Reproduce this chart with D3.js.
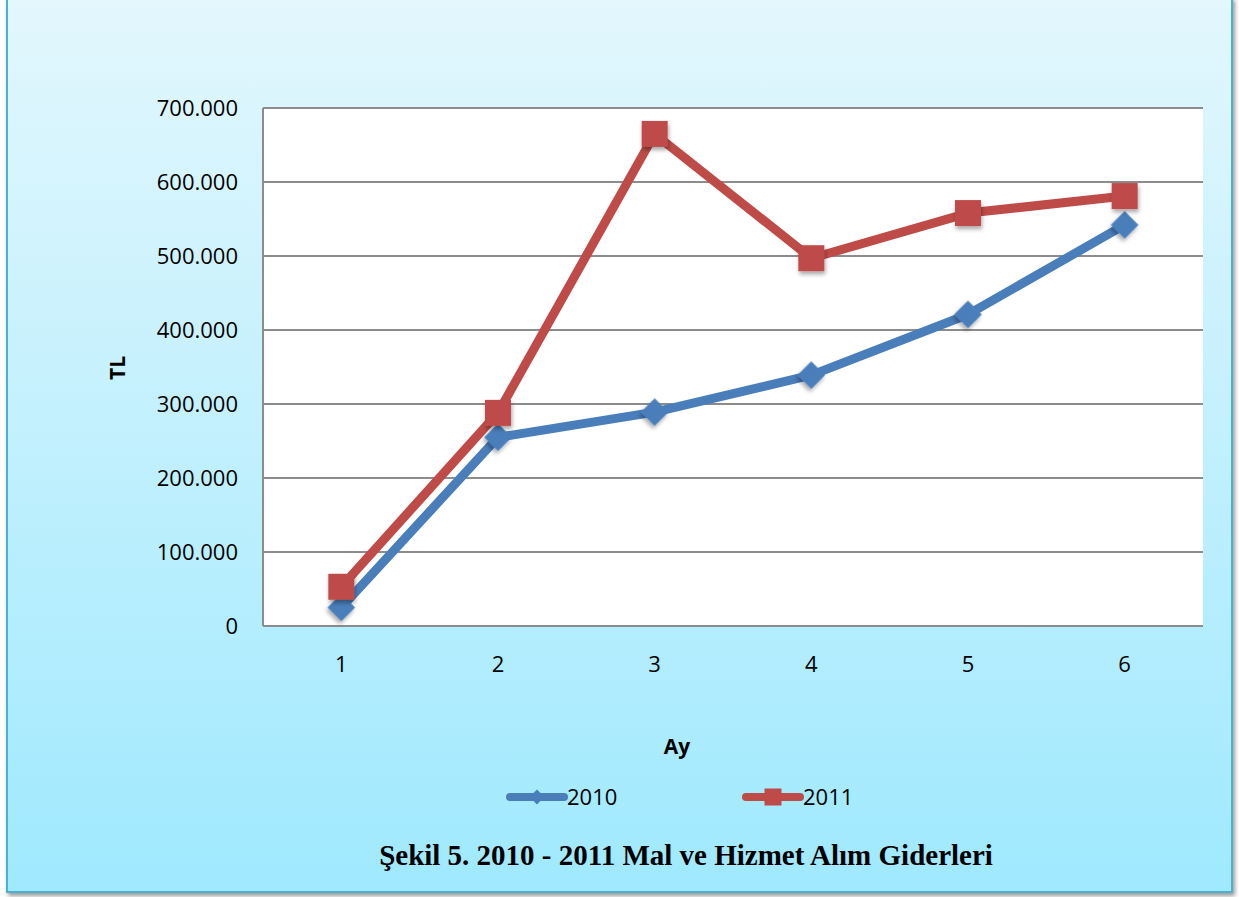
<!DOCTYPE html>
<meta charset="utf-8">
<style>
body { margin: 0; background: #fff; }
.tick text { font-family: "Open Sans", sans-serif; font-size: 22px; fill: #000; }
.grid line { stroke: #8c8c8c; stroke-width: 2px; }
</style>
<svg width="1239" height="897"></svg>
<script src="https://d3js.org/d3.v7.min.js"></script>
<script>
// chart data
var months = ["1", "2", "3", "4", "5", "6"];
var values2010 = [25000, 255000, 289000, 339000, 421000, 542000];
var values2011 = [53000, 288000, 665000, 497000, 558000, 581000];
var yTicks = [0, 100000, 200000, 300000, 400000, 500000, 600000, 700000];

var svg = d3.select("svg");

var defs = svg.append("defs");
var grad = defs.append("linearGradient").attr("id", "bg")
    .attr("x1", 0).attr("y1", 0).attr("x2", 0).attr("y2", 1);
grad.append("stop").attr("offset", "0%").attr("stop-color", "#e3f7fd");
grad.append("stop").attr("offset", "100%").attr("stop-color", "#9fe9fe");

var sh = defs.append("filter").attr("id", "shadow")
    .attr("x", "-50%").attr("y", "-50%").attr("width", "200%").attr("height", "200%");
sh.append("feDropShadow").attr("dx", 1).attr("dy", 3).attr("stdDeviation", 2)
    .attr("flood-color", "#000").attr("flood-opacity", 0.35);

var frameShadow = defs.append("filter").attr("id", "fshadow")
    .attr("x", "-5%").attr("y", "-5%").attr("width", "110%").attr("height", "110%");
frameShadow.append("feDropShadow").attr("dx", 2).attr("dy", 3).attr("stdDeviation", 2)
    .attr("flood-color", "#000").attr("flood-opacity", 0.4);

// outer frame
svg.append("rect")
    .attr("x", 7).attr("y", -2).attr("width", 1225).attr("height", 894)
    .attr("fill", "url(#bg)")
    .attr("stroke", "#4bb1d1").attr("stroke-width", 2)
    .attr("filter", "url(#fshadow)");

var plotL = 263, plotR = 1203, plotT = 108, plotB = 626;

var x = d3.scaleBand().domain(months).range([plotL, plotR]);
var y = d3.scaleLinear().domain([0, 700000]).range([plotB, plotT]);

// plot area
svg.append("rect")
    .attr("x", plotL).attr("y", plotT)
    .attr("width", plotR - plotL).attr("height", plotB - plotT)
    .attr("fill", "#fff");

// gridlines
svg.append("g").attr("class", "grid")
    .selectAll("line").data(yTicks).enter().append("line")
    .attr("x1", plotL).attr("x2", plotR)
    .attr("y1", function(d) { return y(d); })
    .attr("y2", function(d) { return y(d); });

svg.append("line")
    .attr("x1", plotL).attr("x2", plotL).attr("y1", plotT).attr("y2", plotB)
    .attr("stroke", "#8c8c8c").attr("stroke-width", 2);

var fmt = function(d) { return d === 0 ? "0" : d3.format(",")(d).replace(/,/g, "."); };

var yAxis = svg.append("g")
    .attr("transform", "translate(" + (plotL - 2) + ",0)")
    .call(d3.axisLeft(y).tickValues(yTicks).tickFormat(fmt).tickSize(0).tickPadding(23));
yAxis.select(".domain").remove();
yAxis.selectAll("text").attr("dy", "0.35em");

var xAxis = svg.append("g")
    .attr("transform", "translate(0," + plotB + ")")
    .call(d3.axisBottom(x).tickSize(0).tickPadding(30));
xAxis.select(".domain").remove();

// axis titles
svg.append("text")
    .attr("x", 677).attr("y", 754)
    .attr("text-anchor", "middle")
    .style("font-family", "Open Sans, sans-serif").style("font-weight", "bold").style("font-size", "21px")
    .text("Ay");

svg.append("text")
    .attr("transform", "translate(125,368) rotate(-90)")
    .attr("text-anchor", "middle")
    .style("font-family", "Open Sans, sans-serif").style("font-weight", "bold").style("font-size", "21px")
    .text("TL");

var line = d3.line()
    .x(function(d, i) { return x(months[i]) + x.bandwidth() / 2; })
    .y(function(d) { return y(d); });

function drawSeries(vals, color, shape) {
  var g = svg.append("g");
  g.append("path").datum(vals)
      .attr("d", line)
      .attr("fill", "none")
      .attr("stroke", color)
      .attr("stroke-width", 9)
      .attr("stroke-linejoin", "round");
  g.selectAll(".m").data(vals).enter().append("path")
      .attr("transform", function(d, i) {
        var t = "translate(" + (x(months[i]) + x.bandwidth() / 2) + "," + y(d) + ")";
        return shape === "square" ? t : t + " rotate(45)";
      })
      .attr("d", d3.symbol().type(d3.symbolSquare).size(shape === "square" ? 676 : 380))
      .attr("fill", color)
      .attr("filter", "url(#shadow)");
}

drawSeries(values2010, "#4a7ebb", "diamond");
drawSeries(values2011, "#be4b48", "square");

// legend
var legend = [
  { name: "2010", color: "#4a7ebb", shape: "diamond", x: 510 },
  { name: "2011", color: "#be4b48", shape: "square", x: 746 }
];
legend.forEach(function(l) {
  var ly = 797;
  svg.append("line")
      .attr("x1", l.x).attr("x2", l.x + 54).attr("y1", ly).attr("y2", ly)
      .attr("stroke", l.color).attr("stroke-width", 8).attr("stroke-linecap", "round");
  svg.append("path")
      .attr("transform", "translate(" + (l.x + 27) + "," + ly + ")" + (l.shape === "square" ? "" : " rotate(45)"))
      .attr("d", d3.symbol().type(d3.symbolSquare).size(l.shape === "square" ? 289 : 110))
      .attr("fill", l.color);
  svg.append("text")
      .attr("x", l.x + 57).attr("y", ly + 8)
      .style("font-family", "Open Sans, sans-serif").style("font-size", "22px")
      .text(l.name);
});

// caption
svg.append("text")
    .attr("x", 686).attr("y", 865)
    .attr("text-anchor", "middle")
    .style("font-family", "Liberation Serif, Times New Roman, serif")
    .style("font-weight", "bold").style("font-size", "29px")
    .text("Şekil 5. 2010 - 2011 Mal ve Hizmet Alım Giderleri");
</script>
